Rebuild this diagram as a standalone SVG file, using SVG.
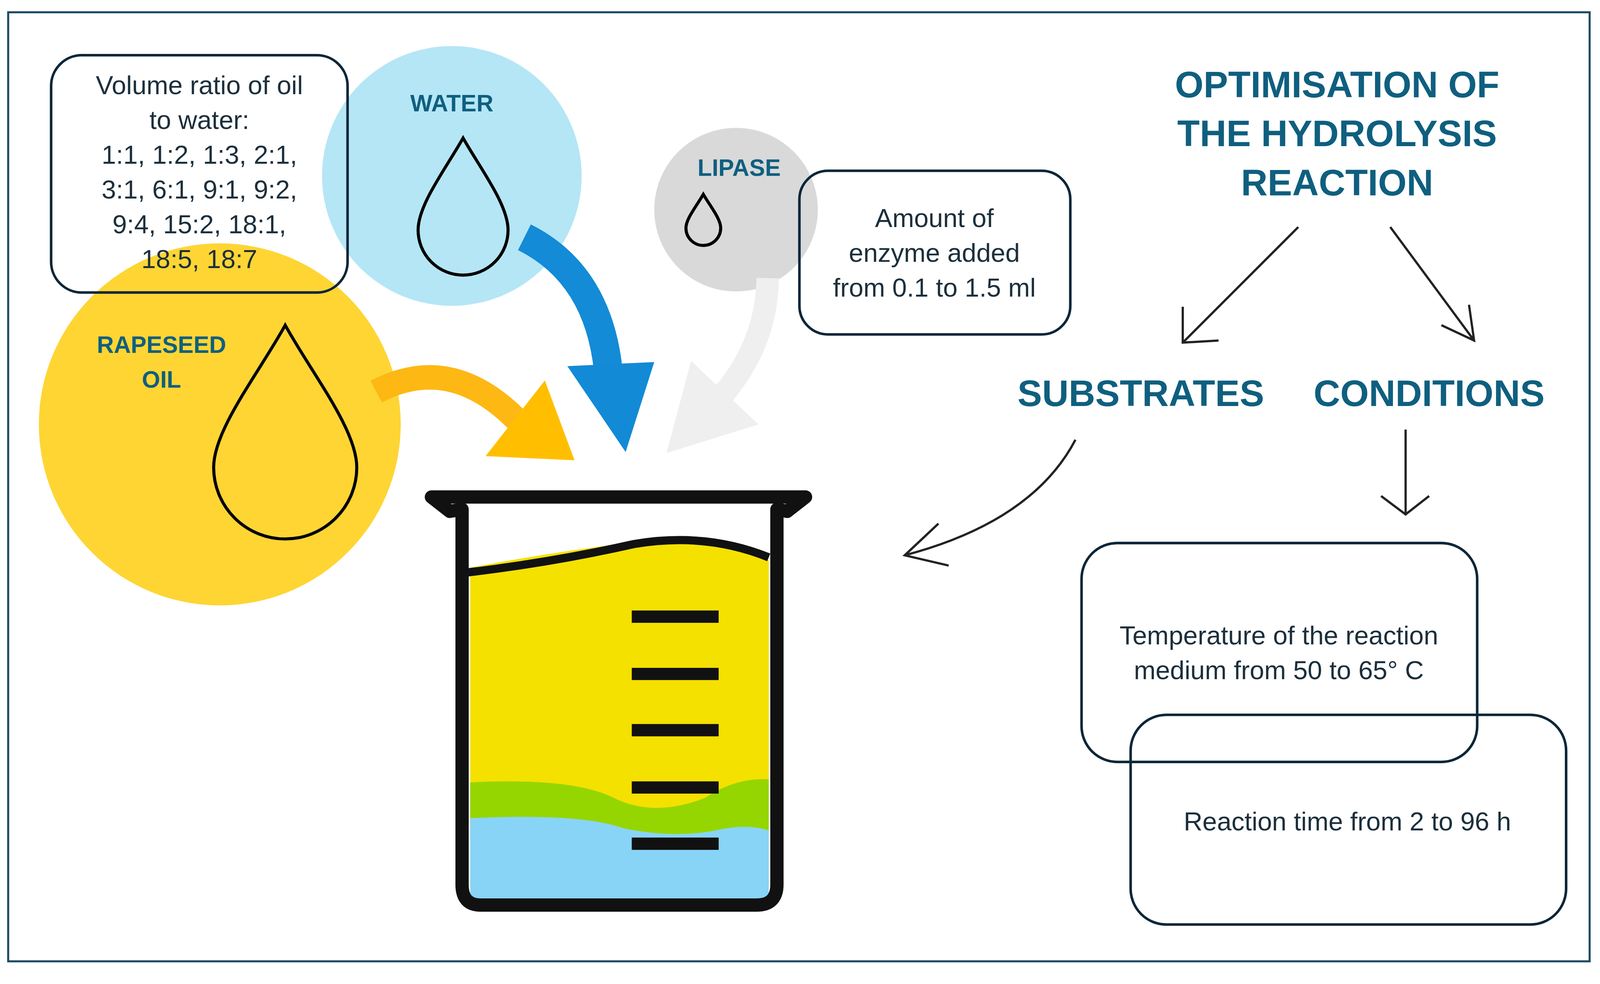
<svg xmlns="http://www.w3.org/2000/svg" width="4137" height="2518" viewBox="0 0 4137 2518">
<style>
.t{font-family:"Liberation Sans",Arial,sans-serif;font-size:25.5px;fill:#1c2f3c;text-anchor:middle}
.h{font-family:"Liberation Sans",Arial,sans-serif;font-weight:bold;fill:#0f5f7f;text-anchor:middle}
.box{fill:none;stroke:#0d2638;stroke-width:2.5}
.drop{fill:none;stroke:#000;stroke-width:3}
.ar{fill:none;stroke:#222;stroke-width:2.2}
</style>
<rect width="4137" height="2518" fill="#fff"/>
<g transform="scale(2.617)">
<rect x="8" y="12" width="1547" height="928" fill="none" stroke="#1d4a63" stroke-width="2"/>
<g id="water"><circle cx="442" cy="172" r="127" fill="#b5e6f6"/>
<text class="h" x="442" y="109" font-size="23">WATER</text>
<path class="drop" d="M453,135 C470,165 497,200 497,225 A44,44 0 0 1 409,225 C409,200 436,165 453,135Z"/></g>
<g id="oil"><circle cx="215" cy="415" r="177" fill="#fed533"/>
<text class="h" x="158" y="345" font-size="23">RAPESEED</text><text class="h" x="158" y="379" font-size="23">OIL</text>
<path class="drop" d="M279,318 C305,365 349,420 349,457 A70,70 0 0 1 209,457 C209,420 253,365 279,318Z"/></g>
<g id="lipase"><circle cx="720" cy="205" r="80" fill="#d9d9d9"/>
<text class="h" x="723" y="172" font-size="23">LIPASE</text>
<path class="drop" d="M688,190 C695,202 705,214 705,223 A17,17 0 0 1 671,223 C671,214 681,202 688,190Z" stroke-width="2"/></g>
<g id="ratio"><rect class="box" x="50" y="54" width="290" height="232" rx="30"/>
<text class="t" x="195" y="92">Volume ratio of oil</text><text class="t" x="195" y="126">to water:</text>
<text class="t" x="195" y="160">1:1, 1:2, 1:3, 2:1,</text><text class="t" x="195" y="194">3:1, 6:1, 9:1, 9:2,</text>
<text class="t" x="195" y="228">9:4, 15:2, 18:1,</text><text class="t" x="195" y="262">18:5, 18:7</text></g>
<g id="enzyme"><rect class="box" x="782" y="167" width="265" height="160" rx="28"/>
<text class="t" x="914" y="222">Amount of</text><text class="t" x="914" y="256">enzyme added</text><text class="t" x="914" y="290">from 0.1 to 1.5 ml</text></g>
<g id="title"><text class="h" x="1308" y="95" font-size="36">OPTIMISATION OF</text>
<text class="h" x="1308" y="143" font-size="36">THE HYDROLYSIS</text><text class="h" x="1308" y="191" font-size="36">REACTION</text></g>
<g id="substrates"><text class="h" x="1116" y="397" font-size="36">SUBSTRATES</text></g>
<g id="conditions"><text class="h" x="1398" y="397" font-size="36">CONDITIONS</text></g>
<g id="temp"><rect class="box" x="1058" y="531" width="387" height="214" rx="35"/>
<text class="t" x="1251" y="630">Temperature of the reaction</text><text class="t" x="1251" y="664">medium from 50 to 65° C</text></g>
<g id="time"><rect class="box" x="1106" y="699" width="426" height="205" rx="35"/>
<text class="t" x="1318" y="812">Reaction time from 2 to 96 h</text></g>
<g id="beaker">
<path d="M460,555 Q540,540 620,530 Q690,522 752,548 L752,875 L460,875Z" fill="#f4e100"/>
<path d="M460,765 Q560,760 600,780 Q640,800 690,780 Q720,760 752,762 L752,825 L460,822Z" fill="#95d600"/>
<path d="M460,800 Q570,795 610,810 Q660,820 700,812 Q730,805 752,812 L752,880 L460,880Z" fill="#88d4f7"/>
<path d="M455,560 Q540,550 620,532 Q690,520 752,545" fill="none" stroke="#111" stroke-width="8"/>
<path d="M422,486 L788,486 L770,500 L760,498 L760,865 Q760,885 740,885 L470,885 Q452,885 452,865 L452,498 L440,500Z" fill="none" stroke="#111" stroke-width="13" stroke-linejoin="round"/>
<g stroke="#111" stroke-width="12"><line x1="618" y1="603" x2="703" y2="603"/><line x1="618" y1="659" x2="703" y2="659"/><line x1="618" y1="714" x2="703" y2="714"/><line x1="618" y1="770" x2="703" y2="770"/><line x1="618" y1="825" x2="703" y2="825"/></g>
</g>
<g id="connectors">
<path d="M368,383 Q440,345 505,410" fill="none" stroke="#fdb813" stroke-width="24"/>
<polygon points="533,372 562,450 475,446" fill="#ffbf00"/>
<path d="M513,232 Q585,268 595,362" fill="none" stroke="#138bd6" stroke-width="28"/>
<polygon points="555,358 640,354 612,442" fill="#128ad6"/>
<path d="M751,272 Q750,335 708,385" fill="none" stroke="#efefef" stroke-width="22"/>
<polygon points="676,353 742,415 652,443" fill="#efefef"/>
<path class="ar" d="M1270,222 L1157,335 M1157,300 L1157,335 L1192,333"/>
<path class="ar" d="M1360,222 L1442,333 M1437,298 L1442,333 L1410,318"/>
<path class="ar" d="M1052,430 Q1010,510 885,543 M918,512 L885,543 L928,553"/>
<path class="ar" d="M1375,420 L1375,503 M1351,485 L1375,503 L1398,485"/>
</g>
</g>
</svg>
